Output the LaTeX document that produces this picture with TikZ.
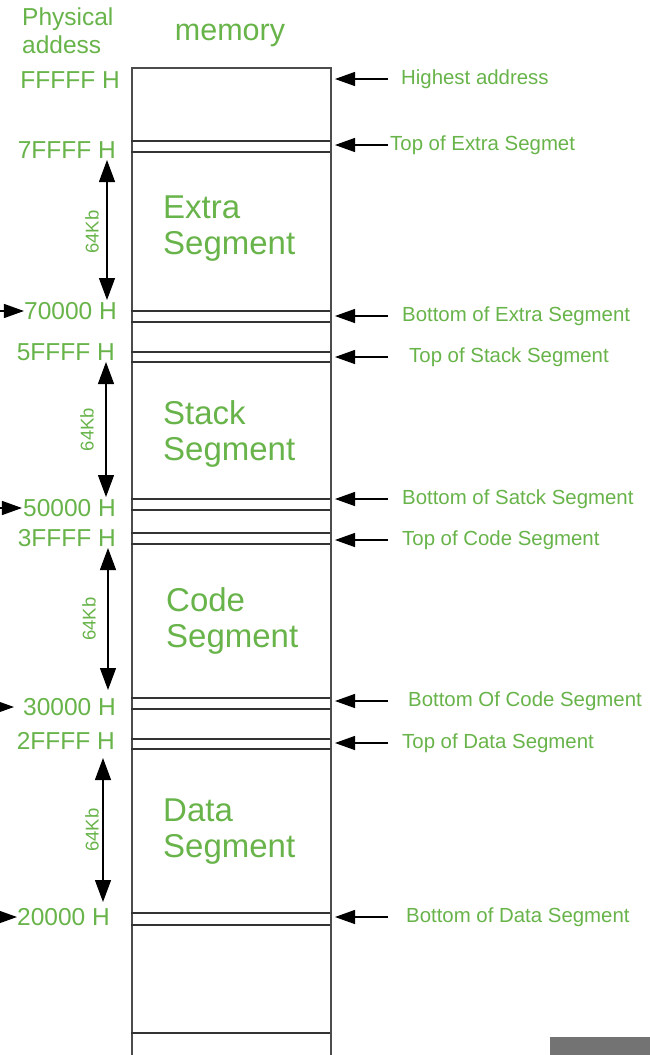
\documentclass[tikz,border=0pt]{standalone}
\usepackage{fontspec}
\setmainfont{Liberation Sans}
\usepackage{xcolor}
\usepackage{tikz}
\usetikzlibrary{arrows.meta, positioning}

\definecolor{lblgreen}{RGB}{104,180,74}

\begin{document}
\begin{tikzpicture}[x=1pt, y=-1pt]
    \tikzstyle{addr} = [anchor=east, inner sep=0pt, text=lblgreen, font=\fontsize{24.5}{28}\selectfont]
    \tikzstyle{note} = [anchor=west, inner sep=0pt, text=lblgreen, font=\fontsize{20.4}{24}\selectfont]
    \tikzstyle{segname} = [anchor=west, inner sep=0pt, align=left, text=lblgreen, font=\fontsize{33}{36}\selectfont]
    \tikzstyle{kb} = [inner sep=0pt, rotate=90, text=lblgreen, font=\fontsize{18.5}{20}\selectfont]
    \tikzstyle{pointer} = [draw, line width=1.3pt, -{Triangle[length=20pt, width=14pt]}]
    \tikzstyle{span} = [draw, line width=1.3pt, {Triangle[length=22pt, width=16pt]}-{Triangle[length=22pt, width=16pt]}]
    \tikzstyle{bound} = [draw=black!80, line width=1.4pt]

    \useasboundingbox (0,0) rectangle (650,1055);
    \fill[white] (0,0) rectangle (650,1055);

    % memory column
    \node [draw=black!70, line width=1.5pt, minimum width=199pt, minimum height=1010pt, inner sep=0pt, anchor=north west] (mem) at (131,67) {};
    \foreach \y in {141,152,311,322,352,362,499,510,533,544,698,709,739,749,913,925,1033}
        \draw [bound] (131,\y) -- (330,\y);

    % headings
    \node [anchor=west, inner sep=0pt, align=left, text=lblgreen, font=\fontsize{24.5}{28}\selectfont] (phys) at (22,31) {Physical\\addess};
    \node [inner sep=0pt, text=lblgreen, font=\fontsize{30.5}{34}\selectfont] (memtitle) at (230,35) {memory};

    % addresses
    \node [addr] (aFFFFF) at (120,80) {FFFFF H};
    \node [addr] (a7FFFF) at (116,150) {7FFFF H};
    \node [addr] (a70000) at (117,311) {70000 H};
    \node [addr] (a5FFFF) at (115,352) {5FFFF H};
    \node [addr] (a50000) at (116,508) {50000 H};
    \node [addr] (a3FFFF) at (116,538) {3FFFF H};
    \node [addr] (a30000) at (116,707) {30000 H};
    \node [addr] (a2FFFF) at (115,741) {2FFFF H};
    \node [addr] (a20000) at (110,917) {20000 H};

    % segments
    \node [segname] (extra) at (163,229) {Extra\\Segment};
    \node [segname] (stack) at (163,434) {Stack\\Segment};
    \node [segname] (code) at (166,621) {Code\\Segment};
    \node [segname] (data) at (163,832) {Data\\Segment};

    % notes on the right
    \node [note] (highest) at (401,79) {Highest address};
    \node [note] (topextra) at (390,145) {Top of Extra Segmet};
    \node [note] (botextra) at (402,316) {Bottom of Extra Segment};
    \node [note] (topstack) at (409,357) {Top of Stack Segment};
    \node [note] (botstack) at (402,499) {Bottom of Satck Segment};
    \node [note] (topcode) at (402,540) {Top of Code Segment};
    \node [note] (botcode) at (408,701) {Bottom Of Code Segment};
    \node [note] (topdata) at (402,743) {Top of Data Segment};
    \node [note] (botdata) at (406,917) {Bottom of Data Segment};

    \coordinate (tail) at (388,0);
    \coordinate (wall) at (335,0);
    \coordinate (edge) at (0,0);

    \path [pointer] (tail |- highest.west) -- (wall |- highest.west);
    \path [pointer] (tail |- topextra.west) -- (wall |- topextra.west);
    \path [pointer] (tail |- botextra.west) -- (wall |- botextra.west);
    \path [pointer] (tail |- topstack.west) -- (wall |- topstack.west);
    \path [pointer] (tail |- botstack.west) -- (wall |- botstack.west);
    \path [pointer] (tail |- topcode.west) -- (wall |- topcode.west);
    \path [pointer] (tail |- botcode.west) -- (wall |- botcode.west);
    \path [pointer] (tail |- topdata.west) -- (wall |- topdata.west);
    \path [pointer] (tail |- botdata.west) -- (wall |- botdata.west);

    % arrows coming in from the left
    \path [pointer] (edge |- a70000.west) -- (a70000.west);
    \path [pointer] (edge |- a50000.west) -- ([xshift=-1pt]a50000.west);
    \path [pointer] (edge |- a30000.west) -- ([xshift=-9pt]a30000.west);
    \path [pointer] (edge |- a20000.west) -- (a20000.west);

    % 64Kb spans
    \coordinate (e1) at (107,160);
    \coordinate (e2) at (107,300);
    \coordinate (s1) at (106,362);
    \coordinate (s2) at (106,497);
    \coordinate (c1) at (108,548);
    \coordinate (c2) at (108,690);
    \coordinate (d1) at (103,758);
    \coordinate (d2) at (103,902);
    \path [span] (e1) -- node [kb, xshift=-2pt, yshift=15pt] {64Kb} (e2);
    \path [span] (s1) -- node [kb, xshift=0pt, yshift=19pt] {64Kb} (s2);
    \path [span] (c1) -- node [kb, xshift=0pt, yshift=19pt] {64Kb} (c2);
    \path [span] (d1) -- node [kb, xshift=0pt, yshift=11pt] {64Kb} (d2);

    % corner badge
    \fill [black!55] (550,1037) rectangle (660,1060);
\end{tikzpicture}
\end{document}
